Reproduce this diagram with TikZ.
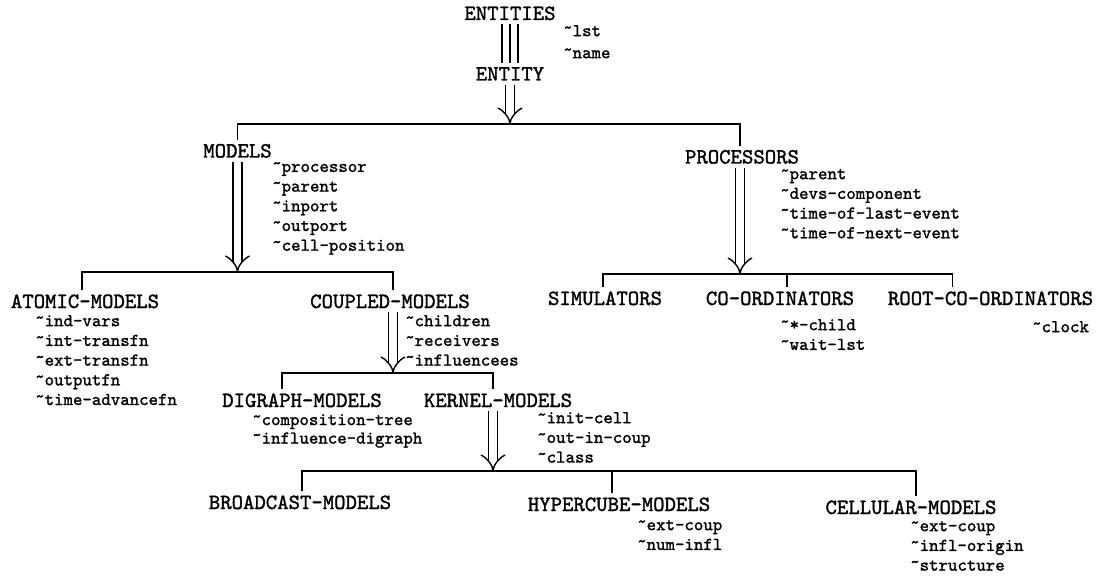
\documentclass[tikz,border=0pt]{standalone}
\usepackage{fontspec}
\usetikzlibrary{arrows.meta}
\newfontfamily\typer{lmmono10-regular.otf}[FakeBold=1.4]
\tikzstyle{head} = [font=\typer\fontsize{21.7}{24}\selectfont, inner sep=4pt, anchor=base]
\tikzstyle{slots} = [font=\typer\fontsize{18}{19.7}\selectfont, align=left,
    anchor=north west, inner sep=0pt, execute at begin node={\rule{0pt}{13pt}}]
\tikzstyle{bar} = [draw, line width=1.7pt]
\tikzstyle{isa} = [draw, double, double distance=7.5pt, line width=1.4pt, -{Implies}]
\newcommand{\attr}[1]{\raisebox{.4ex}{\textasciitilde}#1}

\begin{document}
\begin{tikzpicture}[x=1pt, y=-1pt]
	\path[fill=white] (0,0) rectangle (1107,577);
	\useasboundingbox (0,0) rectangle (1107,577);

		\node [head] (entities) at (510,20) {ENTITIES};
		\node [head] (entity) at (510,80.5) {ENTITY};
		\node [slots, font=\typer\fontsize{18}{22}\selectfont] (entitiesattr) at (563,25) {\attr{lst}\\\attr{name}};

		\node [head] (models) at (237.5,157.5) {MODELS};
		\node [head] (processors) at (742,163.5) {PROCESSORS};
		\node [slots] (modelsattr) at (272,162) {\attr{processor}\\\attr{parent}\\\attr{inport}\\\attr{outport}\\\attr{cell-position}};
		\node [slots] (processorsattr) at (780,169) {\attr{parent}\\\attr{devs-component}\\\attr{time-of-last-event}\\\attr{time-of-next-event}};

		\node [head] (atomic) at (85,308) {ATOMIC-MODELS};
		\node [head] (coupled) at (390,308) {COUPLED-MODELS};
		\node [slots] (atomicattr) at (35,315) {\attr{ind-vars}\\\attr{int-transfn}\\\attr{ext-transfn}\\\attr{outputfn}\\\attr{time-advancefn}};
		\node [slots] (coupledattr) at (405,315) {\attr{children}\\\attr{receivers}\\\attr{influencees}};

		\node [head] (simulators) at (605,305) {SIMULATORS};
		\node [head] (coordinators) at (780,305) {CO-ORDINATORS};
		\node [head] (rootcoord) at (990.5,305) {ROOT-CO-ORDINATORS};
		\node [slots] (coordinatorsattr) at (780,319) {\attr{*-child}\\\attr{wait-lst}};
		\node [slots] (rootcoordattr) at (1032,319) {\attr{clock}};

		\node [head] (digraph) at (302,407) {DIGRAPH-MODELS};
		\node [head] (kernel) at (498,407) {KERNEL-MODELS};
		\node [slots, font=\typer\fontsize{18}{18.5}\selectfont] (digraphattr) at (252,414) {\attr{composition-tree}\\\attr{influence-digraph}};
		\node [slots] (kernelattr) at (537,412) {\attr{init-cell}\\\attr{out-in-coup}\\\attr{class}};

		\node [head] (broadcast) at (300,509) {BROADCAST-MODELS};
		\node [head] (hypercube) at (619,511) {HYPERCUBE-MODELS};
		\node [head] (cellular) at (911,514) {CELLULAR-MODELS};
		\node [slots] (hypercubeattr) at (637,520) {\attr{ext-coup}\\\attr{num-infl}};
		\node [slots] (cellularattr) at (910,521) {\attr{ext-coup}\\\attr{infl-origin}\\\attr{structure}};

		% branch points
		\coordinate (topbar) at (510,124);
		\coordinate (modelsbar) at (237.5,272);
		\coordinate (procbar) at (740,274);
		\coordinate (coupledbar) at (393,373);
		\coordinate (kernelbar) at (493,471);

		\foreach \dx in {-8,0,8}
			\path [bar] ([xshift=\dx pt]entities.south) -- ([xshift=\dx pt]entity.north);

		\path [isa] (entity.south) -- (topbar);
		\path [bar] (models.north) |- (topbar) -| ([xshift=-2pt]processors.north);

		\path [isa] (models.south) -- (modelsbar);
		\path [bar] ([xshift=-3pt]atomic.north) |- (modelsbar) -| ([xshift=3pt]coupled.north);

		\path [isa] ([xshift=-2pt]processors.south) -- (procbar);
		\path [bar] ([xshift=-2pt]simulators.north) |- (procbar) -| ([xshift=-38pt]rootcoord.north);
		\path [bar] ([xshift=7pt]coordinators.north) -- ([xshift=7pt]coordinators.north |- procbar);

		\path [isa] ([xshift=3pt]coupled.south) -- (coupledbar);
		\path [bar] ([xshift=-20pt]digraph.north) |- (coupledbar) -| ([xshift=-5pt]kernel.north);

		\path [isa] ([xshift=-5pt]kernel.south) -- (kernelbar);
		\path [bar] ([xshift=2pt]broadcast.north) |- (kernelbar) -| ([xshift=5pt]cellular.north);
		\path [bar] ([xshift=-7pt]hypercube.north) -- ([xshift=-7pt]hypercube.north |- kernelbar);
	\end{tikzpicture}
\end{document}
